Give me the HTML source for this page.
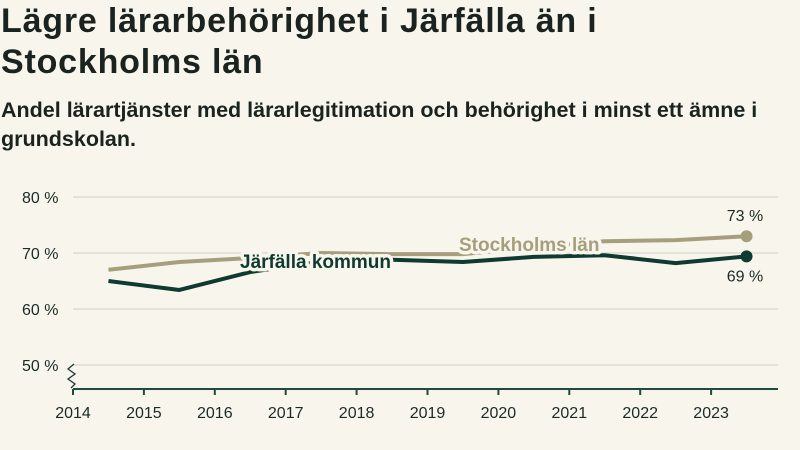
<!DOCTYPE html>
<html><head><meta charset="utf-8"><style>
body{margin:0;background:#f8f6ec;font-family:"Liberation Sans",sans-serif;color:#1a2a26;}
#wrap{width:800px;height:450px;position:relative;overflow:hidden;background:#f8f6ec}
h1{position:absolute;left:1px;top:1px;margin:0;font-size:34px;line-height:41px;font-weight:700;color:#1a2320;letter-spacing:0.8px}
h2{position:absolute;left:1px;top:96px;margin:0;font-size:21.5px;line-height:29px;font-weight:700;color:#1a2320;width:795px}
svg{position:absolute;left:0;top:0}
</style></head><body>
<div id="wrap">
<h1>Lägre lärarbehörighet i Järfälla än i<br>Stockholms län</h1>
<h2>Andel lärartjänster med lärarlegitimation och behörighet i minst ett ämne i grundskolan.</h2>
<svg id="chart" width="800" height="450"></svg>
</div>
<script>
const years=[2014.5,2015.5,2016.5,2017.5,2018.5,2019.5,2020.5,2021.5,2022.5,2023.5];
const stockholm=[67.0,68.4,69.1,70.0,69.8,69.8,71.0,72.1,72.3,73.0];
const jarfalla=[65.0,63.4,66.6,68.5,68.8,68.4,69.3,69.6,68.2,69.4];
const endLabels=['73 %','69 %'];
const xTicks=[2014,2015,2016,2017,2018,2019,2020,2021,2022,2023];
const yTicks=[50,60,70,80];
const NS="http://www.w3.org/2000/svg";
const svg=document.getElementById('chart');
const x=v=>73+(v-2014)*70.9;
const y=v=>253-(v-70)*5.6;
function mk(t,a,p){const e=document.createElementNS(NS,t);for(const k in a)e.setAttribute(k,a[k]);(p||svg).appendChild(e);return e;}
yTicks.forEach(t=>{
 const g=mk('line',{x1:73,x2:778,y1:y(t),y2:y(t),stroke:'#dddbd2','stroke-width':1.5});
 
 
 const l=mk('text',{x:22,y:y(t)+6,'font-size':16,fill:'#1a2a26'});l.textContent=t+' %';
 
 
});
const zz=mk('path',{d:'M74 364 l-6 5 l7 5 l-7 5 l7 5 l-4 4',fill:'none',stroke:'#1a3a33','stroke-width':1.3});


const ax=mk('line',{x1:73,x2:778,y1:389,y2:389,stroke:'#1f4a40','stroke-width':2});


xTicks.forEach(t=>{
 const tk=mk('line',{x1:x(t),x2:x(t),y1:389,y2:395,stroke:'#1f4a40','stroke-width':2});
 
 
 const l=mk('text',{x:x(t),y:418,'font-size':16,'text-anchor':'middle',fill:'#1a2a26'});l.textContent=t;
 
 
});
function series(vals,col,name){
 const p=mk('polyline',{points:years.map((yr,i)=>x(yr)+','+y(vals[i])).join(' '),fill:'none',stroke:col,'stroke-width':4,'stroke-linejoin':'round'});
 
 
 const n=vals.length-1;
 const c=mk('circle',{cx:x(years[n]),cy:y(vals[n]),r:6,fill:col});
 
 
}
series(stockholm,'#a69f7d','stockholm');
series(jarfalla,'#0f3a31','jarfalla');
function lab(txt,xx,yy,col,name,anchor,size,weight){
 const t=mk('text',{x:xx,y:yy,'font-size':size||17,'font-weight':weight||400,fill:col,'text-anchor':anchor||'start',stroke:'#f8f6ec','stroke-width':7,'paint-order':'stroke','stroke-linejoin':'round'});
 t.textContent=txt;
 
 
}
lab('Järfälla kommun',240,268,'#0f3a31','jarfalla-label','start',19,700);
lab('Stockholms län',459,251,'#a69f7d','stockholm-label','start',19,700);
const n=years.length-1;
lab(endLabels[0],745,y(stockholm[n])-15,'#1a2a26','stockholm-end-value','middle',16);
lab(endLabels[1],745,y(jarfalla[n])+25,'#1a2a26','jarfalla-end-value','middle',16);
</script>
</body></html>
